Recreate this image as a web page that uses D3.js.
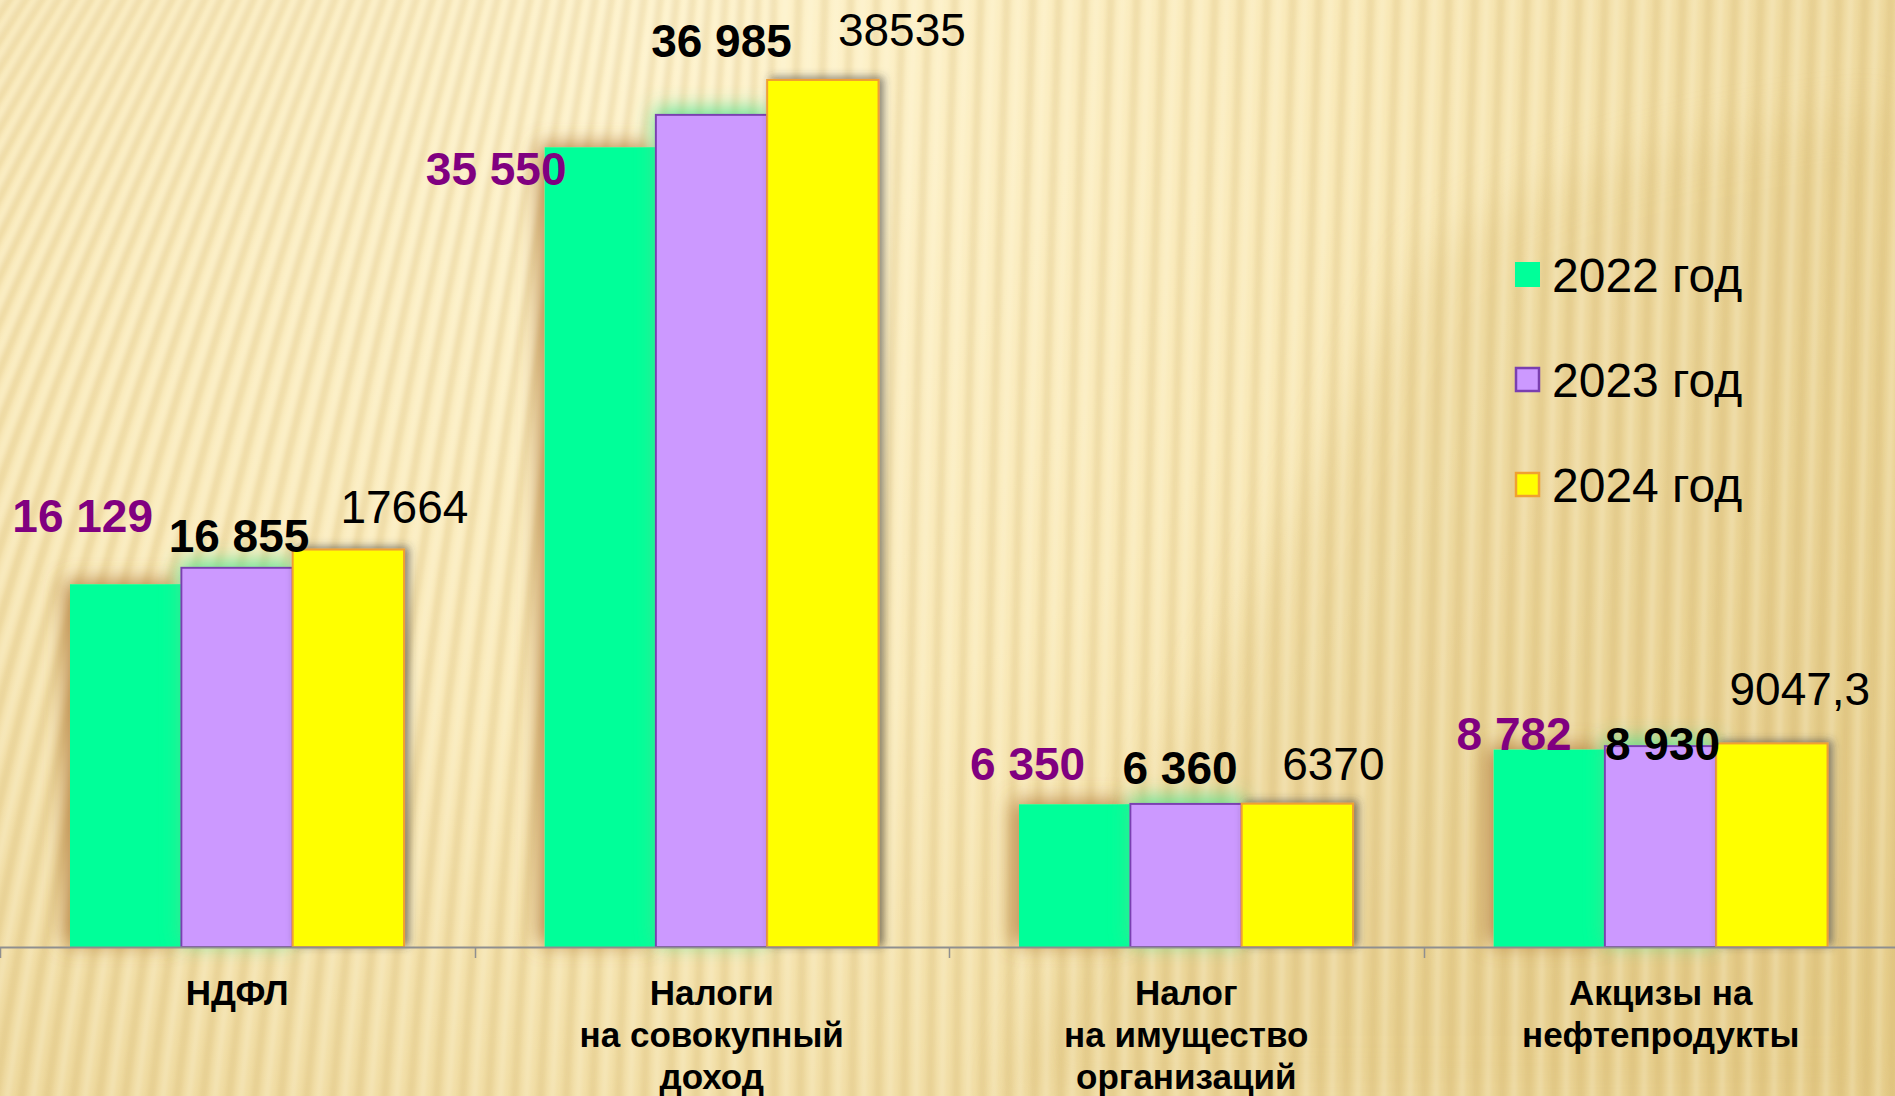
<!DOCTYPE html>
<html>
<head>
<meta charset="utf-8">
<script src="https://d3js.org/d3.v7.min.js"></script>
<style>
  body { margin: 0; overflow: hidden; }
  text { font-family: "Liberation Sans", Arial, sans-serif; }
</style>
</head>
<body>
<script>

// data
var categories = ["НДФЛ", "Налоги\nна совокупный\nдоход", "Налог\nна имущество\nорганизаций", "Акцизы на\nнефтепродукты"];
var seriesNames = ["2022 год", "2023 год", "2024 год"];
var values2022 = [16129, 35550, 6350, 8782];
var values2023 = [16855, 36985, 6360, 8930];
var values2024 = [17664, 38535, 6370, 9047.3];

// hand placed data labels: [dx from bar centre, dy of baseline from bar top]
var labelShift = [
	[[-43, -52], [-104, 38], [-47, -24], [-35, 1]],
	[[2, -16], [10, -58], [-6, -20], [2, 14]],
	[[56, -27], [79, -34], [36, -24], [28, -38]]
];

var w = 1895, h = 1096;
var baseY = 947;

var fills = ["#00ff99", "#cc99ff", "#ffff00"];
var strokes = ["none", "#7a3fb0", "#f0a030"];
var labelColors = ["#800080", "#000", "#000"];
var labelWeights = ["bold", "bold", "normal"];

var ru = d3.formatLocale({decimal: ",", thousands: " ", grouping: [3], currency: ["", ""]});
var plain = d3.formatLocale({decimal: ",", thousands: "", grouping: [3], currency: ["", ""]});
var formats = [ru.format(","), ru.format(","), plain.format(".1~f")];

var series = seriesNames.map(function(name, i) {
	return {name: name, values: [values2022, values2023, values2024][i]};
});

var svg = d3.select("body").append("svg")
	.attr("width", w)
	.attr("height", h);

var defs = svg.append("defs");

var bg = defs.append("radialGradient")
	.attr("id", "bg")
	.attr("gradientUnits", "userSpaceOnUse")
	.attr("cx", 650).attr("cy", 40).attr("r", 1750);
bg.append("stop").attr("offset", 0).attr("stop-color", "#fef3cd");
bg.append("stop").attr("offset", 0.4).attr("stop-color", "#f9e9b8");
bg.append("stop").attr("offset", 0.75).attr("stop-color", "#ecd699");
bg.append("stop").attr("offset", 1).attr("stop-color", "#e4ca85");

var soft = defs.append("filter").attr("id", "soft");
soft.append("feGaussianBlur").attr("stdDeviation", 2.2);

var wide = defs.append("filter").attr("id", "wide")
	.attr("x", "-20%").attr("y", "-20%").attr("width", "140%").attr("height", "140%");
wide.append("feGaussianBlur").attr("stdDeviation", 25);

function glow(id, color, opacity, blur, dx, dy) {
	var f = defs.append("filter").attr("id", id)
		.attr("x", -0.6).attr("y", -0.6).attr("width", 2.2).attr("height", 2.2);
	f.append("feGaussianBlur").attr("in", "SourceAlpha").attr("stdDeviation", blur).attr("result", "b");
	f.append("feOffset").attr("in", "b").attr("dx", dx).attr("dy", dy).attr("result", "o");
	f.append("feFlood").attr("flood-color", color).attr("flood-opacity", opacity);
	f.append("feComposite").attr("in2", "o").attr("operator", "in").attr("result", "g");
	var m = f.append("feMerge");
	m.append("feMergeNode").attr("in", "g");
	m.append("feMergeNode").attr("in", "SourceGraphic");
}
glow("fx0", "#b07a3a", 0.85, 10, -6, -3);
glow("fx1", "#4ce28e", 0.85, 10, 0, -5);
glow("fx2", "#3a3a3a", 0.6, 4, 4, -2);

// background
svg.append("rect").attr("width", w).attr("height", h).attr("fill", "url(#bg)");

svg.append("path")
	.attr("d", "M1420,260 Q1560,140 1895,112 L1895,1096 L1000,1096 Q1250,600 1420,260 Z")
	.attr("fill", "#d9bb70")
	.attr("opacity", 0.22)
	.attr("filter", "url(#wide)");

// bent stripes of the texture: leaning at top left, upright towards the right
var stripes = svg.append("g").attr("filter", "url(#soft)");
for (var xb = -500; xb < w + 60; xb += 26) {
	var lean = 25 + 360 * Math.max(0, 1 - (xb + 200) / 950);
	var d = "M" + xb + "," + (h + 10) +
		" Q" + (xb + lean * 0.25) + "," + (h * 0.5) +
		" " + (xb + lean) + ",-10";
	stripes.append("path").attr("d", d)
		.attr("fill", "none")
		.attr("stroke", "#c9a35a")
		.attr("stroke-opacity", 0.2)
		.attr("stroke-width", 8);
	stripes.append("path").attr("d", d)
		.attr("transform", "translate(12,0)")
		.attr("fill", "none")
		.attr("stroke", "#fffbe8")
		.attr("stroke-opacity", 0.25)
		.attr("stroke-width", 6);
}

// scales
var x0 = d3.scaleBand()
	.domain(d3.range(categories.length))
	.range([0, 1898])
	.padding(0);

var bw = x0.bandwidth();
var x1 = d3.scaleBand()
	.domain(d3.range(series.length))
	.range([bw * 0.1475, bw * 0.8515])
	.padding(0);

var y = d3.scaleLinear()
	.domain([0, 40000])
	.range([baseY, 47]);

// bars, one layer per series so later bars sit over the glow of earlier ones
series.forEach(function(s, si) {
	svg.append("g")
		.selectAll("rect")
		.data(s.values)
		.enter()
		.append("rect")
		.attr("x", function(d, i) { return x0(i) + x1(si); })
		.attr("y", function(d) { return y(d); })
		.attr("width", x1.bandwidth())
		.attr("height", function(d) { return baseY - y(d); })
		.attr("fill", fills[si])
		.attr("stroke", strokes[si])
		.attr("stroke-width", 2)
		.attr("filter", "url(#fx" + si + ")");
});

// axis
var axis = svg.append("g").attr("stroke", "#8f8f8f");
axis.append("line")
	.attr("x1", 0).attr("x2", w)
	.attr("y1", baseY + 0.5).attr("y2", baseY + 0.5)
	.attr("stroke-width", 2);
axis.selectAll(".tick")
	.data(d3.range(categories.length + 1))
	.enter()
	.append("line")
	.attr("x1", function(i) { return Math.round(i * bw) + 0.5; })
	.attr("x2", function(i) { return Math.round(i * bw) + 0.5; })
	.attr("y1", baseY)
	.attr("y2", baseY + 11)
	.attr("stroke-width", 1.5);

// category labels
var cat = svg.append("g")
	.selectAll("text")
	.data(categories)
	.enter()
	.append("text")
	.attr("text-anchor", "middle")
	.attr("font-size", 35)
	.attr("font-weight", "bold")
	.attr("fill", "#000")
	.attr("transform", function(d, i) { return "translate(" + (x0(i) + bw / 2) + ",1005)"; });
cat.selectAll("tspan")
	.data(function(d) { return d.split("\n"); })
	.enter()
	.append("tspan")
	.attr("x", 0)
	.attr("y", function(d, i) { return i * 42; })
	.text(function(d) { return d; });

// value labels
series.forEach(function(s, si) {
	svg.append("g")
		.selectAll("text")
		.data(s.values)
		.enter()
		.append("text")
		.attr("text-anchor", "middle")
		.attr("font-size", 46)
		.attr("font-weight", labelWeights[si])
		.attr("fill", labelColors[si])
		.attr("x", function(d, i) { return x0(i) + x1(si) + x1.bandwidth() / 2 + labelShift[si][i][0]; })
		.attr("y", function(d, i) { return y(d) + labelShift[si][i][1]; })
		.text(function(d) { return formats[si](d); });
});

// legend
var legend = svg.append("g")
	.selectAll("g")
	.data(series)
	.enter()
	.append("g")
	.attr("transform", function(d, i) { return "translate(1515," + (262 + i * 105) + ")"; });
legend.append("rect")
	.attr("x", function(d, i) { return i ? 1 : 0; })
	.attr("y", function(d, i) { return i ? 1 : 0; })
	.attr("width", function(d, i) { return i ? 23 : 25; })
	.attr("height", function(d, i) { return i ? 23 : 25; })
	.attr("fill", function(d, i) { return fills[i]; })
	.attr("stroke", function(d, i) { return strokes[i]; })
	.attr("stroke-width", 2.5);
legend.append("text")
	.attr("x", 37)
	.attr("y", 30)
	.attr("font-size", 48)
	.attr("fill", "#000")
	.text(function(d) { return d.name; });

</script>
</body>
</html>
